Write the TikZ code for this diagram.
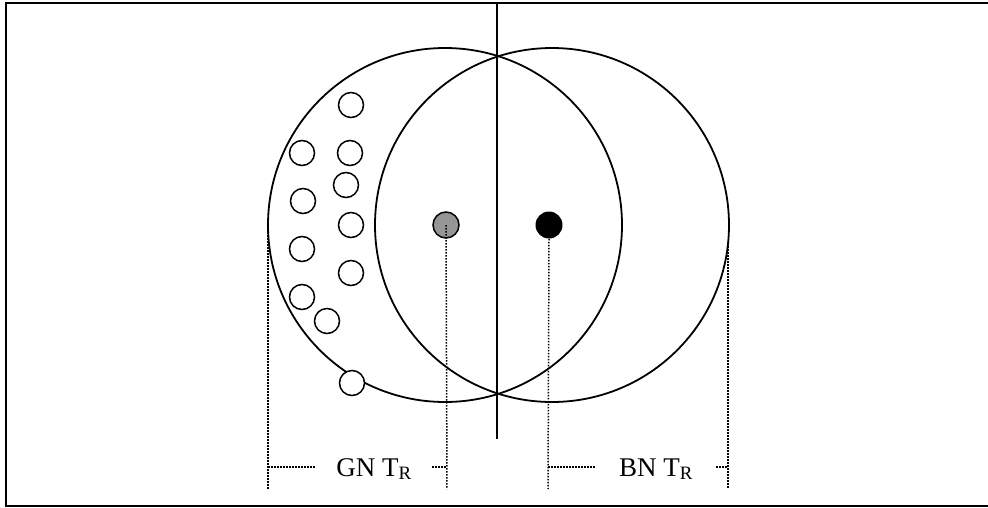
\documentclass[tikz,border=0pt]{standalone}
\usepackage{fontspec}
\setmainfont{Liberation Serif}
\usepackage{xcolor}
\usepackage{tikz}
\usetikzlibrary{calc}
\definecolor{gnfill}{RGB}{150,150,150}

\begin{document}
\begin{tikzpicture}[x=1pt,y=-1pt,thick,
  ring/.style={draw,line width=1.8pt},
  peer/.style={circle,draw,line width=1.5pt,fill=white,minimum size=25pt,inner sep=0pt},
  dim/.style={line width=1.5pt,dash pattern=on 1.5pt off 1.5pt},
  tr/.style={font=\fontsize{27}{30}\selectfont,inner ysep=0pt,anchor=base}]
  \useasboundingbox (0,0) rectangle (988,507);
  \clip (0,0) rectangle (988,507);
  % frame
  \draw[line width=2pt] (6,3) rectangle (1000,506);
  % the two ranges
  \coordinate (gc) at (445,225);
  \coordinate (bc) at (552,225);
  \draw[ring] (gc) circle (177);
  \draw[ring] (bc) circle (177);
  % divider
  \coordinate (top) at (497,3);
  \coordinate (bot) at (497,439);
  \draw[line width=1.8pt] (top) -- (bot);
  % neighbours
  \foreach \i/\p in {1/{351,105},2/{302,153},3/{350,153},4/{346,185},
                     5/{303,201},6/{351,225},7/{302,249},8/{351,273},
                     9/{302,297},10/{327,321},11/{352,383}}
    \node[peer] (s\i) at (\p) {};
  \node[peer,fill=gnfill,minimum size=26pt] (gn) at (446,225) {};
  \node[circle,fill=black,minimum size=27pt,inner sep=0pt] (bn) at (549,225) {};
  % dimension lines
  \coordinate (gl) at (268,223);
  \coordinate (br) at (728,243);
  \coordinate (gl-b) at (268,489);
  \coordinate (gn-b) at (447,489);
  \coordinate (bn-b) at (548,489);
  \coordinate (br-b) at (728,489);
  \draw[dim] (gl) -- (gl-b);
  \draw[dim] (gn.center) -- (gn-b);
  \draw[dim] (bn.south) -- (bn-b);
  \draw[dim] (br) -- (br-b);
  \node[tr,inner xsep=20pt] (gnlab) at (374,476) {GN T\textsubscript{R}};
  \node[tr,inner xsep=23pt] (bnlab) at (656,476) {BN T\textsubscript{R}};
  \coordinate (gl-m) at (268,467);
  \coordinate (gn-m) at (447,467);
  \coordinate (bn-m) at (548,467);
  \coordinate (br-m) at (728,467);
  \draw[dim] (gl-m) -- (gnlab.west |- gl-m);
  \draw[dim] (gnlab.east |- gn-m) -- (gn-m);
  \draw[dim] (bn-m) -- (bnlab.west |- bn-m);
  \draw[dim] (bnlab.east |- br-m) -- (br-m);
\end{tikzpicture}
\end{document}
